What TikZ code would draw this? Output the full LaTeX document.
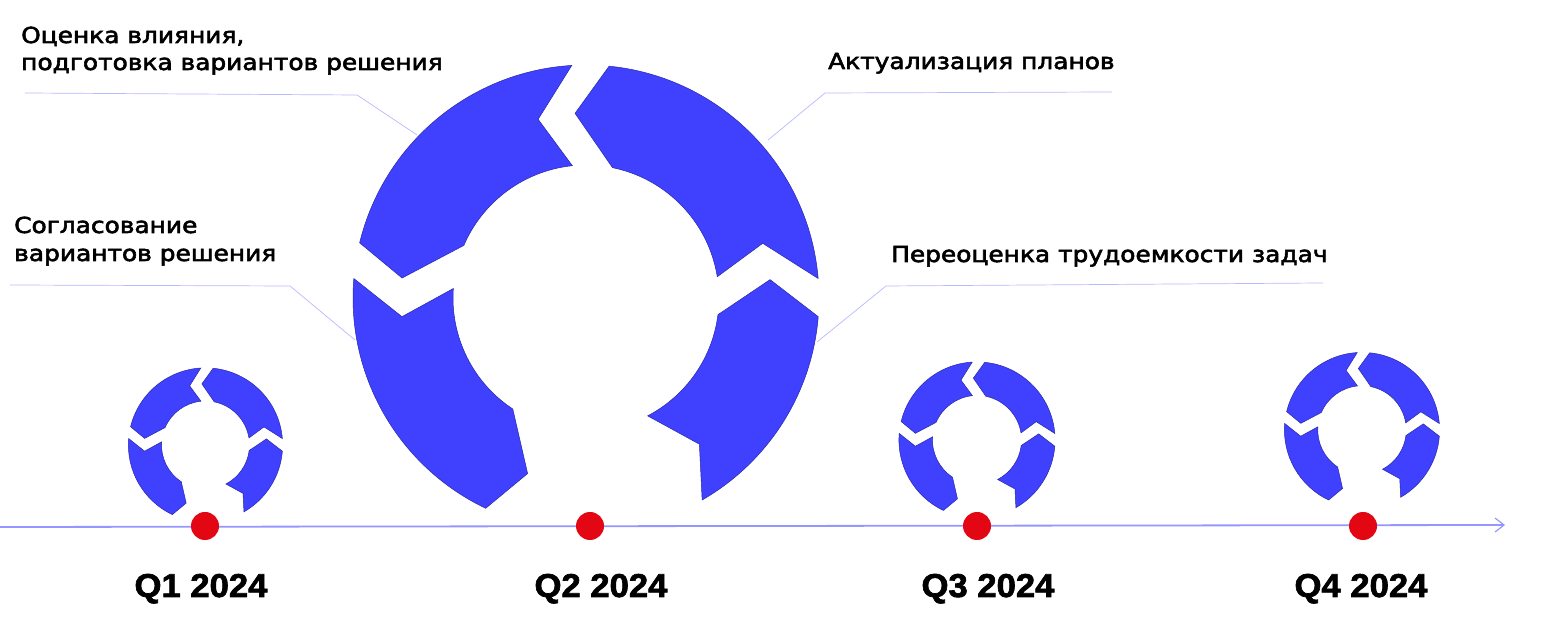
\documentclass[tikz,border=0pt]{standalone}
\usepackage{fontspec}
\setmainfont{DejaVu Sans}
\newfontfamily\labfont{DejaVu Sans}[FakeBold=2.6,FakeStretch=1.13]
\newfontfamily\qfont{Liberation Sans}[BoldFeatures={FakeStretch=1.05,FakeBold=2}]
\usetikzlibrary{arrows.meta}
\definecolor{segblue}{RGB}{64,64,255}
\definecolor{segedge}{RGB}{40,40,170}
\definecolor{axisblue}{RGB}{150,150,255}
\definecolor{leadercol}{RGB}{185,185,255}
\definecolor{dotred}{RGB}{227,6,19}
\newcommand\ringseg[6]{%
  \fill[segstyle] (#1:\RO) arc[start angle=#1, end angle=#4, radius=\RO] -- (#6:\RM) -- (#5:\RI)
    arc[start angle=#5, end angle=#2, radius=\RI] -- (#3:\RM) -- cycle;}
\newcommand\cyclering{%
  \ringseg{4.8}{9.2}{17.2}{84.3}{78.5}{93.4}%
  \ringseg{93.5}{95.9}{105}{166.3}{156.7}{173.8}%
  \ringseg{175.2}{175.9}{185.8}{244.5}{236.6}{251.6}%
  \ringseg{299.9}{297.6}{307.8}{355.4}{352.8}{365.7}}
\begin{document}
\begin{tikzpicture}[x=1pt,y=1pt,
  segstyle/.style={fill=segblue,draw=segedge,line width=0.5pt,line join=miter},
  axisline/.style={draw=axisblue,line width=1.8pt,-{Straight Barb[length=9pt,width=14pt,line width=1.2pt]}},
  leader/.style={draw=leadercol,line width=0.7pt},
  dot/.style={circle,fill=dotred,minimum size=28pt,inner sep=0pt},
  lab/.style={anchor=base west,inner sep=0pt,font=\labfont\fontsize{22}{26}\selectfont},
  qlab/.style={anchor=base,inner sep=0pt,font=\qfont\bfseries\fontsize{33}{38}\selectfont}]
\useasboundingbox (0,0) rectangle (1560,634);
\fill[white] (0,0) rectangle (1560,634);
% leader lines
\coordinate (l1a) at (25,541); \coordinate (l1b) at (357,539); \coordinate (l1c) at (417,499);
\coordinate (l2a) at (10,349); \coordinate (l2b) at (290,348); \coordinate (l2c) at (355,294);
\coordinate (l3a) at (1112,542); \coordinate (l3b) at (825,541); \coordinate (l3c) at (768,494);
\coordinate (l4a) at (1323,351); \coordinate (l4b) at (886,348); \coordinate (l4c) at (817,292);
\draw[leader] (l1a) -- (l1b) -- (l1c);
\draw[leader] (l2a) -- (l2b) -- (l2c);
\draw[leader] (l3a) -- (l3b) -- (l3c);
\draw[leader] (l4a) -- (l4b) -- (l4c);
% big ring
\begin{scope}[shift={(586,336)}]
  \def\RO{233pt}\def\RI{133pt}\def\RM{185pt}
  \cyclering
\end{scope}
% small rings
\begin{scope}[shift={(205.5,189)},scale=0.331]
  \def\RO{233pt}\def\RI{133pt}\def\RM{185pt}
  \cyclering
\end{scope}
\begin{scope}[shift={(977,194)},scale=0.335]
  \def\RO{233pt}\def\RI{133pt}\def\RM{185pt}
  \cyclering
\end{scope}
\begin{scope}[shift={(1362,204)},scale=0.333]
  \def\RO{233pt}\def\RI{133pt}\def\RM{185pt}
  \cyclering
\end{scope}
% axis
\coordinate (axL) at (0,107);
\coordinate (axR) at (1505,109);
\draw[axisline] (axL) -- (axR);
\node[dot] (d1) at (205,108) {};
\node[dot] (d2) at (590,108) {};
\node[dot] (d3) at (977,108) {};
\node[dot] (d4) at (1363,108) {};
% quarter labels
\node[qlab] (q1) at (201,37) {Q1 2024};
\node[qlab] (q2) at (601,37) {Q2 2024};
\node[qlab] (q3) at (988,37) {Q3 2024};
\node[qlab] (q4) at (1361,37) {Q4 2024};
% texts
\node[lab] (t1a) at (21,591) {Оценка влияния,};
\node[lab] (t1b) at (21,564) {подготовка вариантов решения};
\node[lab] (t2a) at (14,401) {Согласование};
\node[lab] (t2b) at (14,373) {вариантов решения};
\node[lab] (t3) at (828,565) {Актуализация планов};
\node[lab] (t4) at (891,372) {Переоценка трудоемкости задач};
\end{tikzpicture}
\end{document}
